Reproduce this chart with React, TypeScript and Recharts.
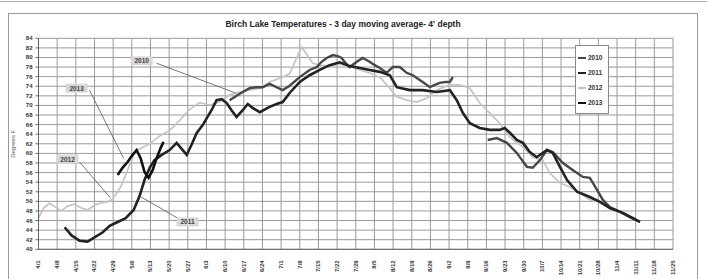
import React from 'react';
import { LineChart, Line, XAxis, YAxis, CartesianGrid, Legend, ReferenceLine, ReferenceDot } from 'recharts';

const FONT = '"Liberation Sans", Arial, sans-serif';

const xTickDays = [0, 7, 14, 21, 28, 35, 42, 49, 56, 63, 70, 77, 84, 91, 98, 105, 112, 119, 126, 133, 140, 147, 154, 161, 168, 175, 182, 189, 196, 203, 210, 217, 224, 231, 238];
const xTickLabels = ['4/1', '4/8', '4/15', '4/22', '4/29', '5/6', '5/13', '5/20', '5/27', '6/3', '6/10', '6/17', '6/24', '7/1', '7/8', '7/15', '7/22', '7/29', '8/5', '8/12', '8/19', '8/26', '9/2', '9/9', '9/16', '9/23', '9/30', '10/7', '10/14', '10/21', '10/28', '11/4', '11/11', '11/18', '11/25'];
const yTicks = [40, 42, 44, 46, 48, 50, 52, 54, 56, 58, 60, 62, 64, 66, 68, 70, 72, 74, 76, 78, 80, 82, 84];

const series2010 = [
  { day: 71.7, t: 71.1 }, { day: 74.3, t: 72.0 }, { day: 76.6, t: 72.8 }, { day: 79.2, t: 73.6 },
  { day: 81.8, t: 73.8 }, { day: 84.1, t: 73.8 }, { day: 86.7, t: 74.5 }, { day: 89.3, t: 73.8 },
  { day: 91.6, t: 73.2 }, { day: 94.2, t: 74.1 }, { day: 98.0, t: 75.9 }, { day: 101.7, t: 77.4 },
  { day: 104.4, t: 78.0 }, { day: 106.2, t: 79.1 }, { day: 108.1, t: 79.9 }, { day: 110.4, t: 80.5 },
  { day: 112.2, t: 80.3 }, { day: 113.7, t: 79.9 }, { day: 115.2, t: 78.8 }, { day: 116.7, t: 78.0 },
  { day: 119.4, t: 79.1 }, { day: 121.6, t: 79.9 }, { day: 124.2, t: 79.1 }, { day: 126.1, t: 78.4 },
  { day: 128.0, t: 77.8 }, { day: 130.6, t: 76.8 }, { day: 132.9, t: 78.0 }, { day: 135.5, t: 78.0 },
  { day: 138.1, t: 76.8 }, { day: 140.4, t: 76.3 }, { day: 144.1, t: 74.9 }, { day: 146.8, t: 73.8 },
  { day: 148.6, t: 74.3 }, { day: 150.5, t: 74.7 }, { day: 152.8, t: 74.9 }, { day: 154.3, t: 74.9 },
  { day: 155.4, t: 75.9 }, { day: 160, t: null },
  { day: 168.5, t: 62.8 }, { day: 171.9, t: 63.2 }, { day: 175.7, t: 62.2 }, { day: 179.4, t: 60.1 },
  { day: 183.2, t: 57.2 }, { day: 185.4, t: 57.0 }, { day: 188.1, t: 58.6 }, { day: 190.7, t: 60.7 },
  { day: 192.9, t: 60.3 }, { day: 196.7, t: 58.0 }, { day: 200.5, t: 56.5 }, { day: 204.2, t: 55.1 },
  { day: 206.8, t: 54.9 }, { day: 209.5, t: 52.4 }, { day: 211.7, t: 50.3 }, { day: 214.3, t: 48.8 },
  { day: 218.1, t: 47.8 }, { day: 221.8, t: 46.7 }, { day: 225.6, t: 45.7 },
];

const series2011 = [
  { day: 9.8, t: 44.6 }, { day: 12.4, t: 42.9 }, { day: 15.4, t: 41.8 }, { day: 18.4, t: 41.6 },
  { day: 21.0, t: 42.5 }, { day: 24.0, t: 43.5 }, { day: 26.7, t: 44.9 }, { day: 29.7, t: 45.7 },
  { day: 32.7, t: 46.5 }, { day: 35.7, t: 48.2 }, { day: 37.9, t: 51.1 }, { day: 39.8, t: 54.5 },
  { day: 41.7, t: 57.0 }, { day: 43.5, t: 58.6 }, { day: 46.2, t: 59.7 }, { day: 49.2, t: 60.7 },
  { day: 51.8, t: 62.2 }, { day: 54.1, t: 60.7 }, { day: 55.6, t: 59.7 }, { day: 57.4, t: 61.8 },
  { day: 59.3, t: 64.2 }, { day: 61.6, t: 65.9 }, { day: 63.4, t: 67.6 }, { day: 64.9, t: 69.0 },
  { day: 66.8, t: 71.1 }, { day: 68.7, t: 71.3 }, { day: 70.6, t: 70.5 }, { day: 72.4, t: 69.0 },
  { day: 74.3, t: 67.6 }, { day: 76.6, t: 69.0 }, { day: 78.5, t: 70.3 }, { day: 80.3, t: 69.5 },
  { day: 83.0, t: 68.6 }, { day: 86.7, t: 69.7 }, { day: 89.3, t: 70.3 }, { day: 91.6, t: 70.7 },
  { day: 94.2, t: 72.6 }, { day: 98.0, t: 74.9 }, { day: 101.7, t: 76.3 }, { day: 105.5, t: 77.4 },
  { day: 109.2, t: 78.4 }, { day: 113.0, t: 79.0 }, { day: 116.7, t: 78.2 }, { day: 120.5, t: 77.8 },
  { day: 124.2, t: 77.4 }, { day: 128.0, t: 77.0 }, { day: 131.8, t: 76.3 }, { day: 134.4, t: 73.8 },
  { day: 139.3, t: 73.2 }, { day: 144.1, t: 73.2 }, { day: 149.4, t: 72.8 }, { day: 154.3, t: 73.2 },
  { day: 156.9, t: 71.1 }, { day: 159.2, t: 68.4 }, { day: 161.8, t: 66.3 }, { day: 165.5, t: 65.3 },
  { day: 169.3, t: 64.9 }, { day: 173.0, t: 64.9 }, { day: 174.9, t: 65.3 }, { day: 176.8, t: 64.3 },
  { day: 179.4, t: 62.8 }, { day: 181.7, t: 62.2 }, { day: 184.3, t: 60.3 }, { day: 186.9, t: 59.2 },
  { day: 190.7, t: 60.7 }, { day: 192.9, t: 60.1 }, { day: 195.6, t: 57.2 }, { day: 198.2, t: 54.5 },
  { day: 202.0, t: 52.0 }, { day: 206.8, t: 50.9 }, { day: 210.6, t: 49.9 }, { day: 214.3, t: 48.6 },
  { day: 219.2, t: 47.6 }, { day: 223.0, t: 46.5 }, { day: 225.6, t: 45.7 },
];

const series2012 = [
  { day: 0, t: 46.5 }, { day: 1.9, t: 48.6 }, { day: 4.1, t: 49.6 }, { day: 6.4, t: 48.8 },
  { day: 8.6, t: 48.0 }, { day: 10.9, t: 49.0 }, { day: 13.5, t: 49.4 }, { day: 16.1, t: 48.6 },
  { day: 18.4, t: 48.2 }, { day: 21.0, t: 49.2 }, { day: 23.6, t: 49.7 }, { day: 25.9, t: 49.9 },
  { day: 27.8, t: 50.5 }, { day: 29.7, t: 52.0 }, { day: 31.2, t: 53.4 }, { day: 32.7, t: 55.5 },
  { day: 34.2, t: 57.6 }, { day: 35.7, t: 59.7 }, { day: 37.2, t: 60.7 }, { day: 38.7, t: 61.1 },
  { day: 41.7, t: 62.0 }, { day: 45.4, t: 63.6 }, { day: 49.2, t: 64.8 }, { day: 52.9, t: 66.9 },
  { day: 56.7, t: 69.2 }, { day: 60.4, t: 70.6 }, { day: 64.2, t: 70.1 }, { day: 67.9, t: 70.7 },
  { day: 71.7, t: 72.2 }, { day: 75.5, t: 72.8 }, { day: 79.2, t: 73.2 }, { day: 83.0, t: 73.6 },
  { day: 86.7, t: 74.9 }, { day: 90.5, t: 75.7 }, { day: 94.2, t: 76.6 }, { day: 96.5, t: 79.5 },
  { day: 98.7, t: 82.2 }, { day: 101.0, t: 80.3 }, { day: 102.9, t: 78.8 }, { day: 105.5, t: 78.4 },
  { day: 109.2, t: 78.2 }, { day: 113.0, t: 78.6 }, { day: 116.7, t: 78.2 }, { day: 120.5, t: 77.4 },
  { day: 124.2, t: 76.8 }, { day: 128.0, t: 75.9 }, { day: 131.8, t: 73.6 }, { day: 134.4, t: 71.8 },
  { day: 138.1, t: 71.1 }, { day: 141.9, t: 70.7 }, { day: 145.6, t: 71.5 }, { day: 149.4, t: 73.2 },
  { day: 154.3, t: 74.3 }, { day: 158.0, t: 74.3 }, { day: 161.8, t: 73.6 }, { day: 165.5, t: 70.5 },
  { day: 169.3, t: 68.4 }, { day: 173.0, t: 66.3 }, { day: 176.8, t: 63.4 }, { day: 181.7, t: 61.3 },
  { day: 185.4, t: 59.2 }, { day: 189.2, t: 58.6 }, { day: 191.8, t: 55.9 }, { day: 195.6, t: 53.8 },
  { day: 199.3, t: 53.0 }, { day: 203.1, t: 51.8 }, { day: 206.8, t: 50.3 }, { day: 210.6, t: 49.9 },
  { day: 214.3, t: 49.0 },
];

const series2013 = [
  { day: 29.7, t: 55.5 }, { day: 31.5, t: 57.0 }, { day: 33.4, t: 58.2 }, { day: 35.3, t: 59.7 },
  { day: 36.8, t: 60.7 }, { day: 38.3, t: 59.0 }, { day: 39.8, t: 56.1 }, { day: 41.3, t: 54.9 },
  { day: 42.8, t: 56.5 }, { day: 44.3, t: 59.0 }, { day: 45.8, t: 61.1 }, { day: 46.9, t: 62.4 },
];

const annotationNames = ['2010', '2013', '2012', '2011'];
const annotationLabelPos = [
  { day: 38.7, t: 79.3 }, { day: 14.3, t: 73.6 }, { day: 10.9, t: 58.8 }, { day: 55.9, t: 45.7 },
];
const annotationArrows = [
  [{ x: 44.3, y: 78.8 }, { x: 73.9, y: 72.6 }],
  [{ x: 19.1, y: 73.2 }, { x: 31.9, y: 59.0 }],
  [{ x: 15.4, y: 58.2 }, { x: 27.0, y: 50.7 }],
  [{ x: 52.2, y: 46.5 }, { x: 37.9, y: 51.1 }],
];

const XTick = (props: any) => {
  const { x, y, payload } = props;
  const i = xTickDays.indexOf(payload.value);
  const yy = y + 3;
  return (
    <text x={x} y={yy} transform={`rotate(-90 ${x} ${yy})`} textAnchor="end" dominantBaseline="central"
      fontSize={6} fill="#333" fontFamily={FONT} fontWeight="bold">
      {xTickLabels[i]}
    </text>
  );
};

const YTick = (props: any) => {
  const { x, y, payload } = props;
  return (
    <text x={x - 1} y={y} textAnchor="end" dominantBaseline="central" fontSize={6} fill="#333" fontFamily={FONT} fontWeight="bold">
      {payload.value}
    </text>
  );
};

const LabelBox = (name: string) => (props: any) => {
  const { cx, cy } = props;
  return (
    <g>
      <rect x={cx - 11} y={cy - 4.5} width={22} height={9} fill="#d8d8d8" />
      <text x={cx} y={cy} textAnchor="middle" dominantBaseline="central" fontSize={6.5} fontWeight="bold" fill="#444" fontFamily={FONT}>{name}</text>
    </g>
  );
};

const LegendContent = (props: any) => {
  const items = [...(props.payload || [])].sort((a: any, b: any) => String(a.value).localeCompare(String(b.value)));
  return (
    <div style={{ border: '1px solid #888', background: '#fff', width: 32, padding: '4px 0 3px 0', fontFamily: FONT }}>
      {items.map((it: any) => (
        <div key={it.value} style={{ display: 'flex', alignItems: 'center', height: 15 }}>
          <svg width={10} height={6} style={{ marginLeft: 2 }}>
            <line x1={0} y1={3} x2={8} y2={3} stroke={it.color} strokeWidth={2} />
          </svg>
          <span style={{ fontSize: 6.5, fontWeight: 'bold', color: '#333' }}>{it.value}</span>
        </div>
      ))}
    </div>
  );
};

export default function App() {
  return (
    <div style={{ position: 'absolute', left: 0, top: 0, width: 707, height: 279, background: '#fff', overflow: 'hidden' }}>
      <div style={{ position: 'absolute', left: 0, top: 1, width: 707, height: 0, borderTop: '1px solid #aaa' }} />
      <div style={{ position: 'absolute', left: 8, top: 13, width: 688, height: 300, border: '1px solid #999' }} />
      <div style={{ position: 'absolute', left: 0, top: 19, width: 686, textAlign: 'center', fontFamily: FONT, fontWeight: 'bold', fontSize: 8.5, color: '#222' }}>
        Birch Lake Temperatures - 3 day moving average- 4' depth
      </div>
      <div style={{ position: 'absolute', left: 0, top: 0 }}>
        <LineChart width={707} height={279} margin={{ top: 38.3, right: 34, left: 8.5, bottom: 4.7 }}>
          <CartesianGrid stroke="#999" strokeWidth={1} />
          <XAxis type="number" dataKey="day" domain={[0, 238]} ticks={xTickDays} interval={0} height={25}
            tick={<XTick />} tickLine={false} axisLine={{ stroke: '#666' }} allowDataOverflow />
          <YAxis type="number" domain={[40, 84]} ticks={yTicks} interval={0} width={30}
            tick={<YTick />} tickLine={{ stroke: '#666' }} tickSize={3} axisLine={{ stroke: '#666' }}
            label={(p: any) => {
              const vb = p.viewBox || { x: 8.5, y: 38, width: 30, height: 211 };
              const cx = 13;
              const cy = vb.y + vb.height / 2;
              return (
                <text x={cx} y={cy} transform={`rotate(-90 ${cx} ${cy})`} textAnchor="middle" dominantBaseline="central"
                  fontSize={6} fill="#555" fontFamily={FONT}>Degrees F</text>
              );
            }} />
          <Legend layout="horizontal" verticalAlign="middle" align="center" content={<LegendContent />}
            wrapperStyle={{ position: 'absolute', left: 575, top: 45, width: 34 }} />
          <Line data={series2012} dataKey="t" name="2012" type="linear" stroke="#c4c4c4" strokeWidth={1.7} dot={false} isAnimationActive={false} />
          <Line data={series2010} dataKey="t" name="2010" type="linear" stroke="#474747" strokeWidth={2.4} dot={false} isAnimationActive={false} />
          <Line data={series2011} dataKey="t" name="2011" type="linear" stroke="#222" strokeWidth={2.6} dot={false} isAnimationActive={false} />
          <Line data={series2013} dataKey="t" name="2013" type="linear" stroke="#111" strokeWidth={2.6} dot={false} isAnimationActive={false} />
          {annotationArrows.map((seg, i) => (
            <ReferenceLine key={'a' + i} segment={seg} stroke="#555" strokeWidth={0.8} ifOverflow="visible" />
          ))}
          {annotationLabelPos.map((p, i) => (
            <ReferenceDot key={'l' + i} x={p.day} y={p.t} r={0} ifOverflow="visible" shape={LabelBox(annotationNames[i])} />
          ))}
        </LineChart>
      </div>
    </div>
  );
}
